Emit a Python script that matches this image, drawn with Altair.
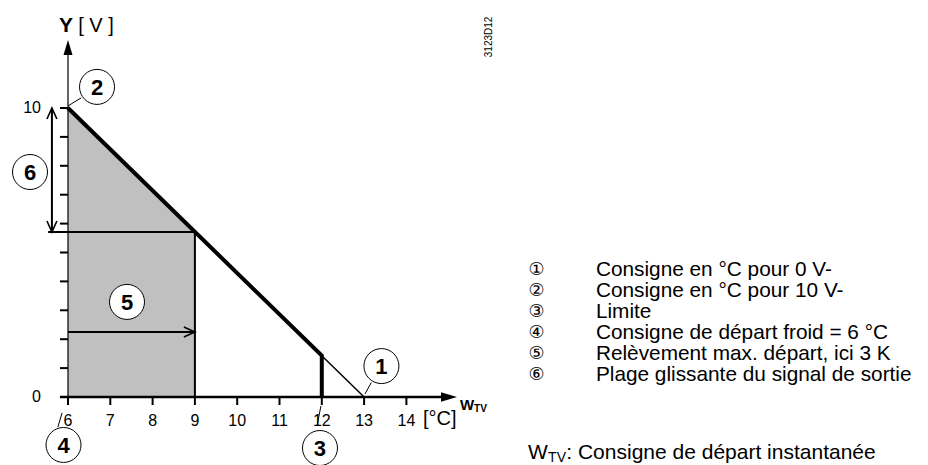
import altair as alt
import pandas as pd

# ---------------- data ----------------
x_tick_values = [6, 7, 8, 9, 10, 11, 12, 13, 14]
y_tick_values = [0, 1, 2, 3, 4, 5, 6, 7, 8, 9, 10]
y_label_values = [0, 10]

# characteristic: thick part from (6,10) down to the limit 12, then vertical
curve_x = [6, 12, 12]
curve_y = [10, 1.43, 0]
# thin extension of the characteristic to 0 V at 13 °C
ext_x = [12, 13]
ext_y = [1.43, 0]
# shaded zone (cold setpoint 6 -> 6+3 K)
shade_x = [6, 9]
shade_top = [10, 5.71]
knee_x, knee_y = 9, 5.71
arrow5_y = 2.25

legend_symbols = ["①", "②", "③", "④", "⑤", "⑥"]
legend_texts = [
    "Consigne en °C pour 0 V-",
    "Consigne en °C pour 10 V-",
    "Limite",
    "Consigne de départ froid = 6 °C",
    "Relèvement max. départ, ici 3 K",
    "Plage glissante du signal de sortie",
]
circle_labels = ["1", "2", "3", "4", "5", "6"]

# ---------------- layout (data units) ----------------
FONT = "Liberation Sans"
xs = alt.Scale(domain=[4.5816, 26.142], nice=False, zero=False)
ys = alt.Scale(domain=[-2.353, 13.460], nice=False, zero=False)

def X(f="x"):
    return alt.X(f"{f}:Q", scale=xs, axis=None)

def Y(f="y"):
    return alt.Y(f"{f}:Q", scale=ys, axis=None)

circle_x = [13.41, 6.686, 11.957, 5.894, 7.395, 5.102]
circle_y = [1.07, 10.73, -1.765, -1.66, 3.29, 7.785]
leaders = pd.DataFrame({
    "x": [13.02, 6.0, 11.89, 5.76],
    "y": [0.10, 10.07, -0.97, -1.04],
    "x2": [13.17, 6.31, 11.98, 5.86],
    "y2": [0.50, 10.35, -0.31, -0.55],
})

# ---------------- layers ----------------
area = alt.Chart(pd.DataFrame({"x": shade_x, "y": shade_top, "y0": [0, 0]})).mark_area(
    color="#c0c0c0", opacity=1
).encode(x=X(), y=Y(), y2="y0:Q")

thin_rules = pd.DataFrame({
    "x": [5.53, knee_x, 6.0],
    "x2": [knee_x, knee_x, knee_x],
    "y": [knee_y, 0, arrow5_y],
    "y2": [knee_y, knee_y, arrow5_y],
})
rules_thin = alt.Chart(thin_rules).mark_rule(color="black", strokeWidth=2).encode(
    x=X(), x2="x2:Q", y=Y(), y2="y2:Q"
)
arrow6 = alt.Chart(pd.DataFrame({"x": [5.62], "y": [knee_y], "y2": [10]})).mark_rule(
    color="black", strokeWidth=2
).encode(x=X(), y=Y(), y2="y2:Q")

head_up = alt.Chart(pd.DataFrame({"x": [5.62], "y": [10]})).mark_point(
    shape="M-0.9,2L0,0L0.9,2", size=121, filled=False, color="black", strokeWidth=1.6, opacity=1
).encode(x=X(), y=Y())
head_down = alt.Chart(pd.DataFrame({"x": [5.62], "y": [knee_y]})).mark_point(
    shape="M-0.9,-2L0,0L0.9,-2", size=121, filled=False, color="black", strokeWidth=1.6, opacity=1
).encode(x=X(), y=Y())
head_right = alt.Chart(pd.DataFrame({"x": [knee_x], "y": [arrow5_y]})).mark_point(
    shape="M-2,-0.9L0,0L-2,0.9", size=121, filled=False, color="black", strokeWidth=1.6, opacity=1
).encode(x=X(), y=Y())

curve = alt.Chart(pd.DataFrame({"x": curve_x, "y": curve_y, "o": [0, 1, 2]})).mark_line(
    color="black", strokeWidth=4, strokeJoin="miter"
).encode(x=X(), y=Y(), order="o:Q")
ext = alt.Chart(pd.DataFrame({"x": ext_x, "y": ext_y, "o": [0, 1]})).mark_line(
    color="black", strokeWidth=1.5
).encode(x=X(), y=Y(), order="o:Q")

# axes
x_axis = alt.Chart(pd.DataFrame({"x": [5.81], "x2": [14.9], "y": [0]})).mark_rule(
    color="black", strokeWidth=2.5
).encode(x=X(), x2="x2:Q", y=Y())
y_axis = alt.Chart(pd.DataFrame({"x": [6], "y": [0], "y2": [12.0]})).mark_rule(
    color="black", strokeWidth=1.2
).encode(x=X(), y=Y(), y2="y2:Q")
x_arrow = alt.Chart(pd.DataFrame({"x": [15.196], "y": [0]})).mark_point(
    shape="M0,0L-2,-0.6L-2,0.6Z", size=256, filled=True, color="black", opacity=1
).encode(x=X(), y=Y())
y_arrow = alt.Chart(pd.DataFrame({"x": [6], "y": [12.353]})).mark_point(
    shape="M0,0L-0.6,2L0.6,2Z", size=225, filled=True, color="black", opacity=1
).encode(x=X(), y=Y())

x_ticks = alt.Chart(pd.DataFrame({"x": x_tick_values})).mark_rule(
    color="black", strokeWidth=2
).encode(x=X(), y=alt.Y("a:Q", scale=ys, axis=None), y2="b:Q").transform_calculate(a="0", b="-0.277")
y_ticks = alt.Chart(pd.DataFrame({"y": y_tick_values})).mark_rule(
    color="black", strokeWidth=2
).encode(y=Y(), x=alt.X("a:Q", scale=xs, axis=None), x2="b:Q").transform_calculate(a="6", b="5.81")

x_labels = alt.Chart(pd.DataFrame({"x": x_tick_values, "t": [str(v) for v in x_tick_values]})).mark_text(
    font=FONT, fontSize=16, align="center", baseline="middle", color="black"
).encode(x=X(), y=alt.Y("yy:Q", scale=ys, axis=None), text="t:N").transform_calculate(yy="-0.83")
y_labels = alt.Chart(pd.DataFrame({"y": y_label_values, "t": [str(v) for v in y_label_values]})).mark_text(
    font=FONT, fontSize=16, align="right", baseline="middle", color="black"
).encode(y=Y(), x=alt.X("xx:Q", scale=xs, axis=None), text="t:N").transform_calculate(xx="5.36")

# axis titles and misc text
def txt(x, y, t, size, weight="normal", align="left", baseline="middle", angle=0, font=FONT):
    kw = dict(font=font, fontSize=size, fontWeight=weight, align=align, baseline=baseline, color="black")
    if angle:
        kw["angle"] = angle
    return alt.Chart(pd.DataFrame({"x": [x], "y": [y], "t": [t]})).mark_text(**kw).encode(
        x=X(), y=Y(), text="t:N"
    )

texts = [
    txt(5.95, 12.85, "Y", 21, "bold", align="center"),
    txt(6.24, 12.85, "[ V ]", 20),
    txt(14.39, -0.76, "[°C]", 20),
    txt(15.267, -0.45, "W", 15, "bold", baseline="alphabetic"),
    txt(15.6, -0.52, "TV", 10, "bold", baseline="alphabetic"),
    txt(15.95, 12.46, "3123D12", 10, align="center", angle=270),
    txt(16.875, -2.16, "W", 21, baseline="alphabetic"),
    txt(17.35, -2.25, "TV", 14, baseline="alphabetic"),
    txt(17.78, -2.16, ": Consigne de départ instantanée", 21, baseline="alphabetic"),
]

lead = alt.Chart(leaders).mark_rule(color="black", strokeWidth=1).encode(
    x=X(), x2="x2:Q", y=Y(), y2="y2:Q"
)
circ_df = pd.DataFrame({"x": circle_x, "y": circle_y, "t": circle_labels})
circles = alt.Chart(circ_df).mark_point(
    shape="circle", size=1225, fill="white", fillOpacity=1, stroke="black", strokeWidth=1, opacity=1
).encode(x=X(), y=Y())
circle_text = alt.Chart(circ_df).mark_text(
    font=FONT, fontSize=22, fontWeight="bold", align="center", baseline="middle", color="black", dy=1
).encode(x=X(), y=Y(), text="t:N")

leg_y = [4.394 - 0.7266 * i for i in range(len(legend_texts))]
leg_sym = alt.Chart(pd.DataFrame({"y": leg_y, "t": legend_symbols})).mark_text(
    font="DejaVu Sans", fontSize=18, align="center", baseline="middle", color="black"
).encode(y=Y(), x=alt.X("xx:Q", scale=xs, axis=None), text="t:N").transform_calculate(xx="17.08")
leg_txt = alt.Chart(pd.DataFrame({"y": leg_y, "t": legend_texts})).mark_text(
    font=FONT, fontSize=20.8, align="left", baseline="middle", color="black"
).encode(y=Y(), x=alt.X("xx:Q", scale=xs, axis=None), text="t:N").transform_calculate(xx="18.48")

chart = alt.layer(
    area, rules_thin, arrow6, head_up, head_down, head_right, curve, ext,
    x_axis, y_axis, x_arrow, y_arrow, x_ticks, y_ticks, x_labels, y_labels,
    *texts, lead, circles, circle_text, leg_sym, leg_txt
).properties(
    width=912, height=457, padding=0, autosize=alt.AutoSizeParams(type="none")
).configure_view(stroke=None)

chart.save("out.html", embed_options={"renderer": "svg", "actions": False})
